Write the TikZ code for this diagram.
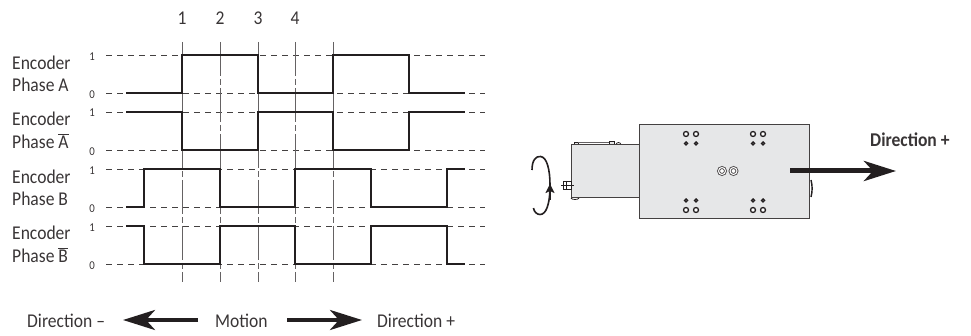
\documentclass[tikz,border=0pt]{standalone}
\usepackage{fontspec}
\setmainfont[FakeStretch=0.9]{Carlito}
\usetikzlibrary{arrows.meta}
\definecolor{ink}{HTML}{231F20}
\definecolor{bodygray}{HTML}{E6E7E8}
\tikzset{
    wave/.style={line width=2pt, color=ink, line join=miter},
    level/.style={line width=0.7pt, color=ink!85, dash pattern=on 6pt off 5pt},
    cursor/.style={line width=0.8pt, color=ink!70, dash pattern=on 34pt off 3pt on 6pt off 3pt},
    phase/.style={font=\fontsize{19.5}{23}\selectfont, color=ink!90, anchor=west, inner sep=0pt},
    tick/.style={font=\fontsize{12}{14}\selectfont, color=ink!90, inner sep=0pt},
    motion/.style={line width=4pt, color=ink, -{Stealth[length=32pt,width=20pt,inset=9pt]}},
    housing/.style={draw=ink!85, fill=bodygray, line width=1pt},
    bighole/.style={circle, draw=ink, line width=1.3pt, fill=white, minimum size=5pt, inner sep=0pt},
    smallhole/.style={circle, draw=ink, line width=1.4pt, fill=white, minimum size=3pt, inner sep=0pt},
    pin/.style={circle, draw=ink!80, double=white, line width=0.9pt, double distance=1pt, fill=white, minimum size=7pt, inner sep=0pt}
}
\begin{document}
\begin{tikzpicture}[x=1pt,y=-1pt]
    \useasboundingbox (0,0) rectangle (971,336);
    % timing chart
    \foreach \lvl in {55.5,93,112,150,169,207,226,264}
        \draw[level] (106,\lvl) -- (485,\lvl);
    \foreach \t in {182,220,258,295,333}
        \draw[cursor] (\t,42) -- (\t,282);
    \draw[wave] (126,93) -- (182,93) -- (182,55.5) -- (258,55.5) -- (258,93) -- (333,93) -- (333,55.5) -- (409,55.5) -- (409,93) -- (465,93);
    \draw[wave] (126,112) -- (182,112) -- (182,150) -- (258,150) -- (258,112) -- (333,112) -- (333,150) -- (409,150) -- (409,112) -- (465,112);
    \draw[wave] (126,207) -- (144,207) -- (144,169) -- (220,169) -- (220,207) -- (295,207) -- (295,169) -- (371,169) -- (371,207) -- (447,207) -- (447,169) -- (465,169);
    \draw[wave] (126,226) -- (144,226) -- (144,264) -- (220,264) -- (220,226) -- (295,226) -- (295,264) -- (371,264) -- (371,226) -- (447,226) -- (447,264) -- (465,264);
    % labels
    \foreach \t/\num in {182/1,220/2,258/3,295/4}
        \node[phase, anchor=center] (num\num) at (\t,18) {\num};
    \node[phase] (encA) at (12,63) {Encoder};
    \node[phase] (phaseA) at (12,85) {Phase A};
    \node[phase] (encAbar) at (12,119) {Encoder};
    \node[phase] (phaseAbar) at (12,141) {Phase $\overline{\mbox{A}}$};
    \node[phase] (encB) at (12,177) {Encoder};
    \node[phase] (phaseB) at (12,199) {Phase B};
    \node[phase] (encBbar) at (12,233) {Encoder};
    \node[phase] (phaseBbar) at (12,255) {Phase $\overline{\mbox{B}}$};
    \foreach \y/\v/\id in {57/1/a,95/0/b,113/1/c,152/0/d,171/1/e,209/0/f,228/1/g,266/0/h}
        \node[tick] (tick\id) at (92,\y) {\v};
    % motion arrows
    \node[phase] (dirminus) at (27,321) {Direction –};
    \node[phase] (motionlabel) at (215,321) {Motion};
    \node[phase] (dirplus) at (377,321) {Direction +};
    \coordinate (leftstart) at (198,320);
    \coordinate (lefttip) at (123,320);
    \coordinate (rightstart) at (287,320);
    \coordinate (righttip) at (362,320);
    \draw[motion] (leftstart) -- (lefttip);
    \draw[motion] (rightstart) -- (righttip);
    % actuator
    \draw[ink, line width=0.8pt, fill=bodygray] (574,145) -- (574,142) -- (578,142) -- (578,145);
    \draw[ink, line width=0.8pt, fill=bodygray] (609,145) -- (609,141.5) -- (614,141.5) -- (614,145);
    \draw[ink!70, line width=0.7pt] (578,142.5) -- (609,142.5) (578,145) -- (609,145);
    \draw[ink, line width=0.8pt] (616,145) arc[start angle=180, end angle=0, radius=2.5pt];
    \draw[ink, line width=0.8pt] (571,198) arc[start angle=180, end angle=360, x radius=4pt, y radius=1.5pt];
    \draw[housing] (639,145) -- (571,145) -- (571,198) -- (639,198);
    \draw[ink, line width=0.7pt, fill=white] (563,181) rectangle (571,189.5);
    \draw[ink, line width=0.6pt] (561,185.5) -- (574,185.5) (566,181) -- (566,189.5);
    \draw[ink, line width=1.4pt] (811,180) .. controls (812.5,186) and (812.5,191) .. (811,197);
    \draw[housing] (639,124.5) rectangle (809,219);
    \foreach \hx in {686,696,753,763} {
        \node[bighole] (top\hx) at (\hx,134) {};
        \node[smallhole] (topsmall\hx) at (\hx,143.5) {};
        \node[smallhole] (botsmall\hx) at (\hx,200.5) {};
        \node[bighole] (bot\hx) at (\hx,210) {};
    }
    \node[pin] (pinleft) at (722,171) {};
    \node[pin] (pinright) at (733.5,171) {};
    % rotation
    \coordinate (turntip) at (550,184);
    \draw[ink, line width=1.6pt] (532,170) .. controls (532,160) and (536,156) .. (540.5,156.5) .. controls (547,157) and (550,170) .. (550,185) .. controls (550,205) and (546,214.5) .. (540,214.5) .. controls (537,214.5) and (534,212) .. (533.5,208);
    \draw[ink, line width=1.8pt, -{Stealth[length=9pt,width=9pt,inset=2pt]}] (550,200) -- (turntip);
    % travel arrow
    \coordinate (travelstart) at (790,171);
    \coordinate (traveltip) at (896,171);
    \draw[motion, line width=5pt] (travelstart) -- (traveltip);
    \node[phase, font=\fontsize{19.5}{23}\selectfont\bfseries] (dirlabel) at (870,140) {Direction +};
\end{tikzpicture}
\end{document}
